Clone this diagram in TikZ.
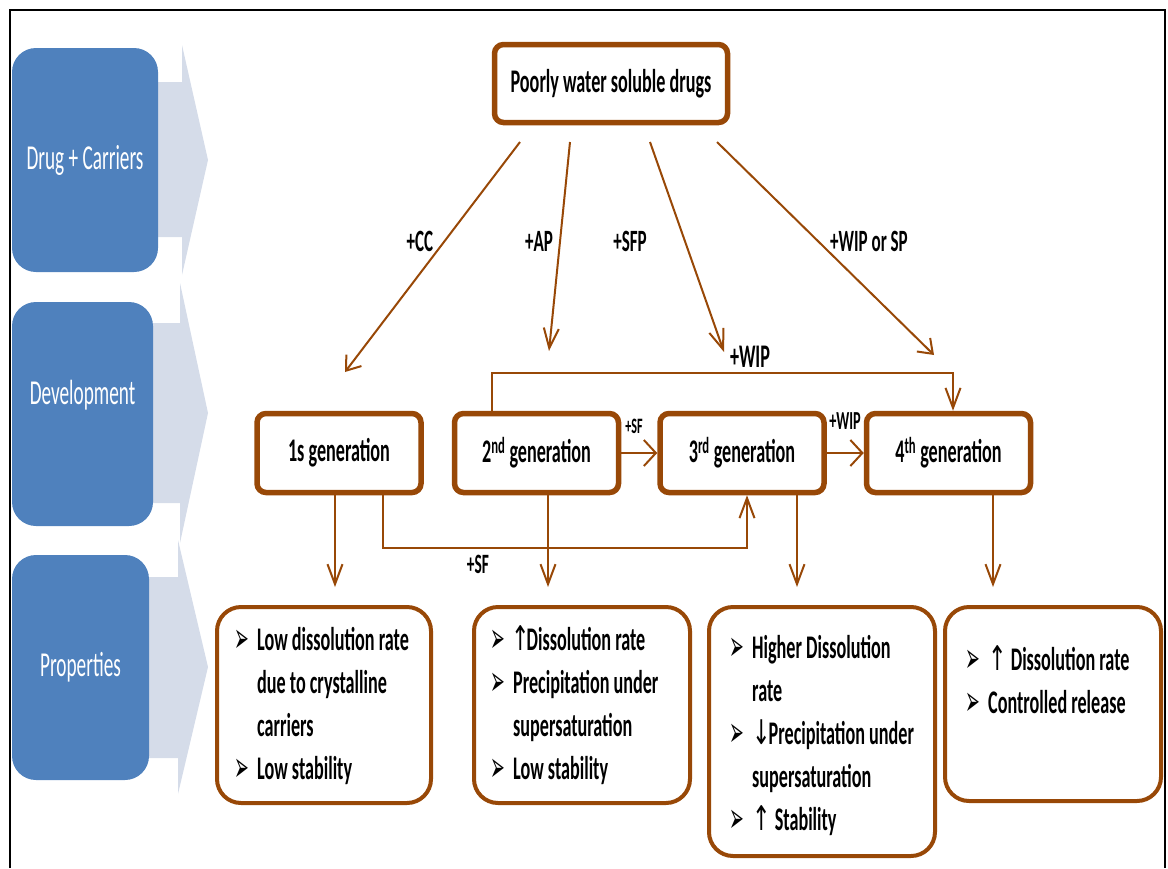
\documentclass[tikz,border=0pt]{standalone}
\usepackage{fontspec}
\setmainfont{Carlito}[FakeStretch=0.55]
\newfontfamily\symf{DejaVu Sans}[FakeStretch=0.65]
\newfontfamily\bulf{DejaVu Sans}[FakeStretch=0.42]
\usetikzlibrary{arrows.meta,calc}

\definecolor{brn}{HTML}{984807}
\definecolor{blu}{HTML}{4F81BD}
\definecolor{chev}{HTML}{D5DCE9}

% list bullet, continuation indent and arrow symbols
\newcommand{\blt}{\makebox[23pt][l]{\raisebox{-2pt}{\mdseries\bulf\fontsize{42}{42}\selectfont ➢}}}
\newcommand{\ind}{\hspace*{23pt}}
\newcommand{\uparr}{{\mdseries\symf\fontsize{34}{34}\selectfont ↑}}
\newcommand{\dnarr}{{\mdseries\symf\fontsize{34}{34}\selectfont ↓}}

\begin{document}
\begin{tikzpicture}[x=1pt,y=-1pt,
  bluebox/.style={fill=blu, rounded corners=24pt, inner sep=0pt,
    text=white, font=\fontsize{35}{40}\selectfont},
  bluetext/.style={text=white, inner sep=0pt, font=\fontsize{35}{40}\selectfont},
  genbox/.style={draw=brn, line width=5.5pt, rounded corners=9pt, fill=white,
    minimum width=164pt, minimum height=79pt, inner sep=0pt,
    font=\bfseries\fontsize{33}{40}\selectfont},
  propbox/.style={draw=brn, line width=4pt, rounded corners=24pt, fill=white, inner sep=0pt},
  ptext/.style={anchor=base west, inner sep=0pt, font=\bfseries\fontsize{33}{43}\selectfont},
  lbl/.style={inner sep=0pt, font=\bfseries\fontsize{31}{36}\selectfont},
  conn/.style={draw=brn, line width=2pt},
  arrV/.style={conn, -{Straight Barb[length=20pt,width=15pt]}},
  arrH/.style={conn, -{Straight Barb[length=12pt,width=26pt]}},
  arrD/.style={conn, -{Straight Barb[length=13pt,width=19pt]}},
]
\useasboundingbox (0,0) rectangle (1168,868);

% outer frame
\draw[line width=2.5pt] (10,868) -- (10,10) -- (1165,10) -- (1165,868);

% chevrons behind the stage boxes
\fill[chev] (85,82) -- (182,82) -- (182,45) -- (208,160) -- (182,275) -- (182,237) -- (85,237) -- cycle;
\fill[chev] (82,323) -- (180,323) -- (180,283) -- (208,413) -- (180,543) -- (180,503) -- (82,503) -- cycle;
\fill[chev] (80,577) -- (178,577) -- (178,540) -- (208,667) -- (178,794) -- (178,758) -- (80,758) -- cycle;

% stage boxes
\node[bluebox, minimum width=146pt, minimum height=224pt] (stage1) at (85,160) {Drug + Carriers};
\node[bluebox, minimum width=141pt, minimum height=224pt] (stage2) at (82.5,414) {};
\node[bluetext] (stage2t) at (82.5,395) {Development};
\node[bluebox, minimum width=137pt, minimum height=225pt] (stage3) at (80.5,667.5) {Properties};

% source box
\node[genbox, minimum width=233pt, minimum height=78pt] (src) at (611,83.5) {Poorly water soluble drugs};

% generation boxes
\node[genbox] (g1) at (339,453) {1s generation};
\node[genbox] (g2) at (536.5,453) {2\textsuperscript{nd} generation};
\node[genbox] (g3) at (742,453) {3\textsuperscript{rd} generation};
\node[genbox] (g4) at (948.5,453) {4\textsuperscript{th} generation};

% property boxes
\node[propbox, minimum width=214pt, minimum height=196pt] (p1) at (324,705) {};
\node[propbox, minimum width=216pt, minimum height=196pt] (p2) at (582,705) {};
\node[propbox, minimum width=226pt, minimum height=249pt] (p3) at (822,731.5) {};
\node[propbox, minimum width=216pt, minimum height=194pt] (p4) at (1053,704) {};

\node[ptext] (p1t) at (234,650) {\vtop{\hbox{\blt Low dissolution rate}\hbox{\ind due to crystalline}\hbox{\ind carriers}\hbox{\blt Low stability}}};
\node[ptext] (p2t) at (490,650) {\vtop{\hbox{\blt\hspace*{-2pt}\uparr\kern-3pt Dissolution rate}\hbox{\blt Precipitation under}\hbox{\ind supersaturation}\hbox{\blt Low stability}}};
\node[ptext] (p3t) at (729,658) {\vtop{\hbox{\blt Higher Dissolution}\hbox{\ind rate}\hbox{\blt\dnarr\kern-2pt Precipitation under}\hbox{\ind supersaturation}\hbox{\blt\uparr\ Stability}}};
\node[ptext] (p4t) at (965,670) {\vtop{\hbox{\blt\uparr\ Dissolution rate}\hbox{\blt Controlled release}}};

% arrows from the source
\coordinate (s1) at (520,142); \coordinate (t1) at (345,372);
\coordinate (s2) at (570,142); \coordinate (t2) at (549,351);
\coordinate (s3) at (650,142); \coordinate (t3) at (724,352);
\coordinate (s4) at (717,142); \coordinate (t4) at (934,355);
\draw[arrD] (s1) -- (t1);
\draw[arrV] (s2) -- (t2);
\draw[arrV] (s3) -- (t3);
\draw[arrD] (s4) -- (t4);
\node[lbl] (lcc) at (420,241) {+CC};
\node[lbl] (lap) at (539,241) {+AP};
\node[lbl] (lsfp) at (630,241) {+SFP};
\node[lbl] (lwsp) at (869,241) {+WIP or SP};

% 2nd -> 4th over the top
\coordinate (k1) at (492,373); \coordinate (k2) at (953,373);
\draw[arrV] (g2.north -| k1) -- (k1) -- (k2) -- (g4.north -| k2);
\node[lbl, font=\bfseries\fontsize{33}{38}\selectfont] (lwip1) at (750,357) {+WIP};

% chain between generations
\draw[arrH] (g2) -- (g3);
\draw[arrH] (g3) -- (g4);
\node[lbl, font=\bfseries\fontsize{22}{26}\selectfont] (lsf1) at (634,426) {+SF};
\node[lbl, font=\bfseries\fontsize{26}{30}\selectfont] (lwip2) at (845,421) {+WIP};

% 1st -> 3rd underneath
\coordinate (b1) at (383,548); \coordinate (b2) at (747,548);
\draw[arrV] (g1.south -| b1) -- (b1) -- (b2) -- (g3.south -| b2);
\node[lbl, font=\bfseries\fontsize{28}{32}\selectfont] (lsf2) at (478,564) {+SF};

% generations -> properties
\coordinate (d1) at (335,587); \coordinate (d2) at (548,587);
\coordinate (d3) at (797,587); \coordinate (d4) at (993,587);
\draw[arrV] (g1.south -| d1) -- (d1);
\draw[arrV] (g2.south -| d2) -- (d2);
\draw[arrV] (g3.south -| d3) -- (d3);
\draw[arrV] (g4.south -| d4) -- (d4);
\end{tikzpicture}
\end{document}
